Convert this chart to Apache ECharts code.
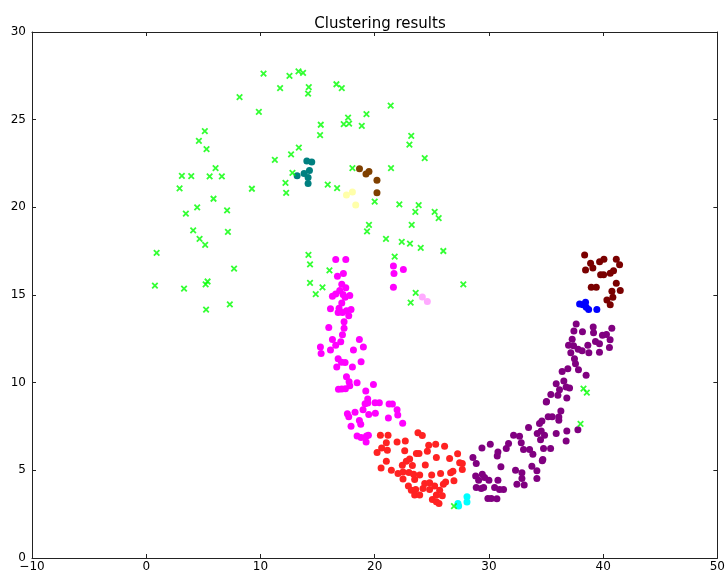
<!DOCTYPE html>
<html>
<head>
<meta charset="utf-8">
<script src="https://cdn.jsdelivr.net/npm/echarts@6/dist/echarts.min.js"></script>
<style>
html,body{margin:0;padding:0;background:#fff;}
#chart{width:728px;height:573px;}
</style>
</head>
<body>
<div id="chart"></div>
<script>
const titleText = 'Clustering results';
const xTicks = [-10, 0, 10, 20, 30, 40, 50];
const yTicks = [0, 5, 10, 15, 20, 25, 30];

const noisePoints = [
[10.27,27.63],[12.54,27.5],[13.33,27.76],[13.73,27.67],[11.72,26.8],[14.23,26.85],[14.17,26.49],[16.65,27.02],[17.12,26.8],[8.17,26.28],[9.86,25.45],[17.67,25.12],[17.29,24.74],[17.76,24.78],[19.28,25.31],[18.87,24.65],[15.28,24.71],[15.22,24.12],[5.13,24.35],[4.61,23.79],[5.28,23.32],[13.36,23.41],[12.68,23.02],[11.26,22.71],[18.05,22.24],[6.07,22.24],[3.12,21.8],[3.94,21.78],[5.55,21.76],[6.62,21.76],[12.8,21.97],[2.92,21.08],[9.25,21.06],[12.19,21.4],[12.25,20.83],[15.89,21.29],[16.71,21.1],[5.89,20.49],[4.46,20.0],[7.08,19.83],[3.47,19.64],[20.0,20.32],[4.11,18.69],[4.67,18.2],[5.16,17.86],[7.15,18.6],[19.5,19.0],[19.33,18.63],[0.91,17.4],[14.2,17.29],
[23.04,23.58],[24.38,22.81],[21.43,22.24],[22.16,20.17],[23.85,20.13],[23.56,19.74],[25.25,19.74],[25.6,19.39],[23.24,19.0],[20.99,18.2],[22.37,18.03],[23.09,17.93],[24.03,17.69],[26.01,17.51],[21.75,17.19],[14.34,16.75],[16.04,16.4],[14.34,15.69],[15.43,15.43],[14.84,15.05],[27.76,15.61],[23.59,15.12],[23.15,14.56],
[0.76,15.54],[3.31,15.37],[5.2,15.6],[5.37,15.77],[5.24,14.17],[7.32,14.46],[7.69,16.5],[21.4,25.8],[23.2,24.08],
[38.28,9.66],[38.57,9.43],[38.02,7.65],[26.94,2.96]
];

const tealPoints = [[14.06,22.64],[14.49,22.58],[14.29,22.1],[13.82,21.93],[13.21,21.8],[14.17,21.7],[14.17,21.36]];
const brownPoints = [[18.67,22.2],[19.24,21.9],[19.5,22.05],[20.2,21.54],[20.2,20.83]];
const yellowPoints = [[17.53,20.7],[18.05,20.87],[18.34,20.13]];
const pinkPoints = [[24.17,14.88],[24.61,14.63]];
const cyanPoints = [[27.29,3.11],[27.35,2.96],[28.08,3.49],[28.08,3.2]];
const bluePoints = [[37.94,14.49],[38.23,14.44],[38.46,14.59],[38.52,14.3],[38.73,14.17],[39.45,14.17]];

const magentaPoints = [
[21.64,16.66],[22.51,16.45],[21.69,16.22],[21.64,15.44],
[16.59,17.02],[17.47,17.02],[16.74,16.07],[17.26,16.22],[17.12,15.61],[17.47,15.41],[16.94,15.25],[16.59,15.06],[16.3,14.93],[17.23,15.03],[17.41,14.87],[17.82,14.97],[17.12,14.55],[16.13,14.21],[16.88,14.25],[16.8,14.0],[17.18,14.0],[17.53,14.1],[17.93,14.17],[17.73,13.81],[17.32,13.47],[17.32,13.11],[15.98,13.15],[17.18,12.73],[16.3,12.46],[17.03,12.33],[16.59,12.14],[15.25,12.03],[15.31,11.67],[16.13,11.86],[18.66,12.46],[19.01,12.03],[18.14,11.86],[16.8,11.36],[17.09,11.17],[17.41,11.15],[16.68,10.89],[18.05,10.89],[18.81,11.19],[17.53,10.34],[17.76,10.05],[17.82,9.83],[18.46,10.0],[16.83,9.62],[17.12,9.64],[17.44,9.66],[19.89,9.9],[19.22,9.52],[19.39,9.07],[19.16,8.8],[19.39,8.84],[20.03,8.86],[20.41,8.86],[21.26,8.78],[21.55,8.78],[17.61,8.23],[17.73,8.06],[18.28,8.31],[18.98,8.46],[19.48,8.18],[20.06,8.25],[21.96,8.46],[22.02,8.16],[21.2,7.99],[18.66,7.84],[18.78,7.63],[17.93,7.51],[22.45,7.68],[18.46,6.96],[18.81,6.87],[19.28,6.96],[19.45,7.0],[19.25,6.62]
];

const redPoints = [
[20.5,7.0],[21.17,7.0],[23.79,7.15],[24.17,6.98],[21.02,6.57],[21.96,6.62],[22.68,6.68],[20.61,6.28],[21.11,6.15],[20.21,6.02],[22.63,6.11],[24.73,6.43],[25.34,6.49],[26.12,6.38],[23.65,5.96],[23.88,5.96],[24.61,6.09],[25.4,5.73],[27.26,5.94],[21.02,5.52],[22.77,5.52],[23.06,5.64],[26.56,5.67],[27.44,5.43],[27.67,5.39],[20.56,5.14],[21.46,5.01],[22.42,5.29],[23.3,5.27],[24.43,5.31],[27.67,5.05],[22.04,4.82],[22.48,4.91],[23.0,4.88],[23.41,4.78],[23.94,4.74],[24.99,4.74],[25.77,4.82],[26.85,4.95],[26.65,4.86],[22.48,4.5],[23.5,4.48],[24.81,4.29],[26.21,4.34],[26.94,4.4],[22.95,4.1],[24.38,4.25],[23.21,3.87],[23.59,3.91],[24.23,3.97],[24.81,3.91],[25.25,4.1],[25.69,3.87],[26.01,4.21],[23.5,3.59],[23.94,3.59],[25.4,3.59],[25.92,3.55],[25.05,3.34],[25.4,3.21],[25.63,3.11]
];

const purplePoints = [
[28.6,5.73],[28.89,5.39],[29.39,6.28],[30.12,6.49],[30.79,6.05],[30.73,5.82],[31.05,5.2],[31.52,6.24],[31.72,6.53],[32.16,7.0],[32.68,6.94],[32.83,6.57],[33.03,6.19],[33.56,6.19],[33.85,5.92],[34.72,5.62],[34.78,6.24],[35.4,6.24],[35.54,8.05],[35.19,8.05],[34.64,7.82],[34.43,7.67],[34.23,7.1],[34.58,7.25],[34.87,7.0],[34.52,6.75],[35.89,7.1],[33.47,7.44],[35.02,8.9],[32.33,5.01],[32.89,4.86],[32.89,4.53],[32.45,4.21],[33.09,4.16],[34.2,4.53],[34.2,4.97],[33.76,5.24],[34.67,5.54],[28.84,4.67],[29.1,4.44],[29.42,4.78],[29.62,4.59],[30.0,4.44],[30.79,4.44],[28.89,4.02],[29.33,3.97],[29.54,4.02],[30.5,4.02],[30.93,3.91],[31.28,3.91],[29.91,3.4],[30.21,3.4],[30.7,3.38],
[37.64,13.34],[37.44,12.94],[38.19,12.9],[39.13,13.17],[39.16,12.84],[40.76,13.11],[39.94,12.71],[40.29,12.75],[37.29,12.48],[40.61,12.45],[36.97,12.14],[37.41,12.1],[39.33,12.35],[39.68,12.22],[38.66,12.14],[37.81,11.9],[38.16,11.82],[37.17,11.71],[38.75,11.71],[39.68,11.74],[40.55,12.01],[37.49,11.36],[37.58,11.08],[36.41,10.64],[36.91,10.79],[37.84,10.74],[38.51,10.43],[36.56,10.09],[35.89,9.94],[36.76,9.75],[37.06,9.69],[36.18,9.6],[35.42,9.33],[36.04,9.28],[36.82,9.12],[35.04,8.93],[36.3,8.38],[36.12,8.04],[36.12,7.85],[36.82,7.25],[36.76,6.68],[37.79,7.32]
];

const maroonPoints = [
[38.38,17.28],[38.9,16.81],[39.1,16.54],[38.46,16.43],[39.69,16.9],[40.07,17.04],[41.15,17.04],[41.44,16.73],[40.91,16.39],[40.62,16.24],[39.78,16.15],[40.04,16.15],[38.96,15.44],[39.4,15.44],[41.15,15.67],[41.5,15.25],[40.77,15.22],[40.85,14.87],[40.33,14.72],[40.62,14.44]
];

const clusters = [
  {data: magentaPoints, color: '#ff00ff'},
  {data: redPoints, color: '#ff2222'},
  {data: purplePoints, color: '#800080'},
  {data: maroonPoints, color: '#7a0000'},
  {data: bluePoints, color: '#0000ff'},
  {data: tealPoints, color: '#008080'},
  {data: brownPoints, color: '#7f4000'},
  {data: yellowPoints, color: '#ffffaa'},
  {data: pinkPoints, color: '#ffaaff'},
  {data: cyanPoints, color: '#00ffff'}
];

const font = 'DejaVu Sans';
const minus = v => String(v).replace('-', '\u2212');

const series = clusters.map(c => ({
  type: 'scatter', data: c.data, symbol: 'circle', symbolSize: 7,
  itemStyle: {color: c.color, opacity: 1}, silent: true
}));
series.push({
  type: 'scatter', data: noisePoints,
  symbol: 'path://M0,0L10,10M10,0L0,10', symbolSize: 5.5,
  itemStyle: {color: 'rgba(0,0,0,0)', borderColor: '#00ff00', borderWidth: 1.8},
  silent: true
});

function axisCommon() {
  return {
    axisLine: {show: true, onZero: false, lineStyle: {color: '#222', width: 1}},
    axisTick: {show: true, inside: true, length: 4, lineStyle: {color: '#222'}},
    splitLine: {show: false}
  };
}

const chart = echarts.init(document.getElementById('chart'), null, {renderer: 'canvas'});
chart.setOption({
  animation: false,
  backgroundColor: '#fff',
  title: {text: titleText, left: 375, textAlign: 'center', top: 12,
    textStyle: {fontFamily: font, fontSize: 15, fontWeight: 'normal', color: '#000'}},
  grid: {left: 32, right: 9, top: 32, bottom: 15, containLabel: false},
  xAxis: [
    Object.assign({type: 'value', min: xTicks[0], max: xTicks[xTicks.length-1], interval: 10, position: 'bottom',
      axisLabel: {fontFamily: font, fontSize: 12, color: '#000', margin: 3, formatter: minus}}, axisCommon()),
    Object.assign({type: 'value', min: xTicks[0], max: xTicks[xTicks.length-1], interval: 10, position: 'top',
      axisLabel: {show: false}}, axisCommon())
  ],
  yAxis: [
    Object.assign({type: 'value', min: yTicks[0], max: yTicks[yTicks.length-1], interval: 5, position: 'left',
      axisLabel: {fontFamily: font, fontSize: 12, color: '#000', margin: 6}}, axisCommon()),
    Object.assign({type: 'value', min: yTicks[0], max: yTicks[yTicks.length-1], interval: 5, position: 'right',
      axisLabel: {show: false}}, axisCommon())
  ],
  series: series
});
</script>
</body>
</html>
